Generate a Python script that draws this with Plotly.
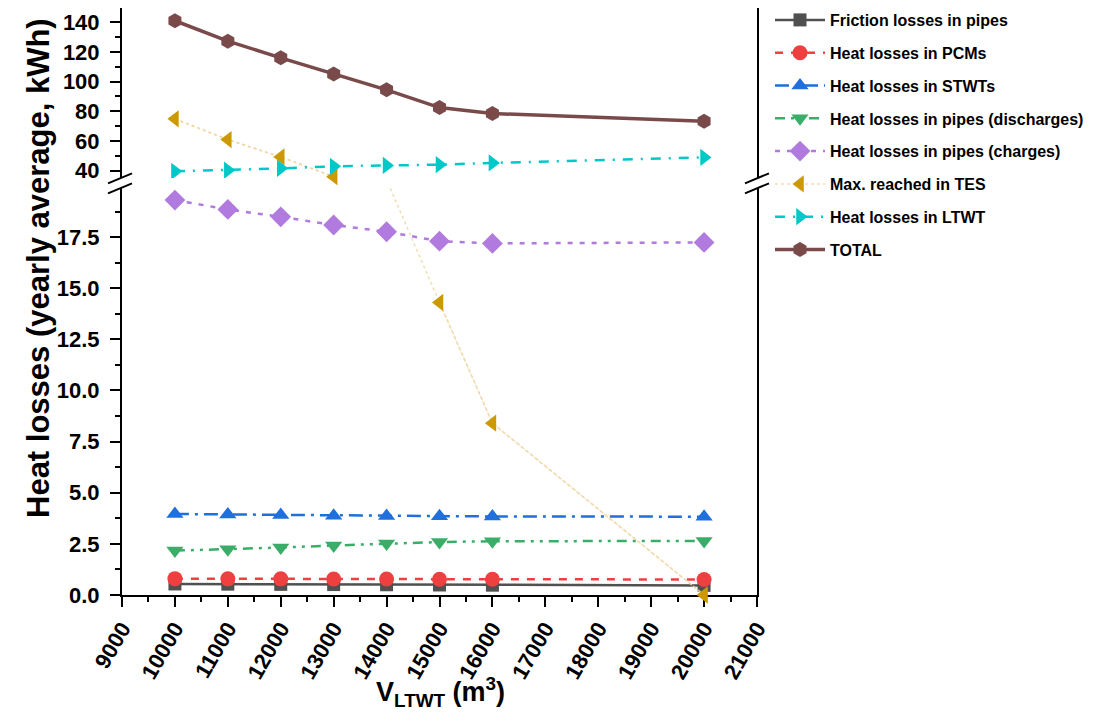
import plotly.graph_objects as go

# ---------------- data ----------------
volumes = [10000, 11000, 12000, 13000, 14000, 15000, 16000, 20000]

friction_pipes = [0.54, 0.53, 0.52, 0.51, 0.50, 0.49, 0.48, 0.47]
heat_pcms = [0.80, 0.79, 0.79, 0.78, 0.78, 0.77, 0.77, 0.76]
heat_stwts = [3.96, 3.94, 3.91, 3.88, 3.86, 3.85, 3.84, 3.83]
heat_pipes_discharges = [2.17, 2.24, 2.32, 2.42, 2.52, 2.59, 2.63, 2.64]
heat_pipes_charges = [19.31, 18.85, 18.49, 18.09, 17.76, 17.30, 17.19, 17.24]
max_reached_tes = [74.9, 60.9, 49.2, 35.9, 20.3, 14.3, 8.4, 0.0]
heat_ltwt = [39.5, 40.3, 41.5, 42.9, 43.5, 44.0, 45.2, 48.9]
total = [141.1, 127.3, 116.1, 105.2, 94.5, 82.5, 78.5, 73.3]

x_ticks = list(range(9000, 21001, 1000))

# broken y axis: lower and upper segment ranges
lower_range = [0, 19.9]
upper_range = [35.0, 149.7]

# ---------------- layout geometry ----------------
# the page body has an 8px margin, so the figure is drawn 8px smaller
OFF = 8
W, H = 1099 - OFF, 721 - OFF
ML, MR, MT, MB = 122 - OFF, 342, 0, 126
PW = W - ML - MR
PH = H - MT - MB
plot_bottom_px = 595  # page pixel coords
plot_left_px = 122


def px2x(px):
    return (px - plot_left_px) / PW


def px2y(py):
    return (plot_bottom_px - py) / PH


y_lower_top_px = 188
y_upper_bot_px = 178

FONT = "Liberation Sans, Arial, sans-serif"

fig = go.Figure()


def add(name, y, color, dash, symbol, msize, width, axis, group):
    fig.add_trace(go.Scatter(
        x=volumes, y=y, name=name, mode="lines+markers",
        line=dict(color=color, dash=dash, width=width),
        marker=dict(symbol=symbol, size=msize, color=color, line=dict(width=0)),
        xaxis="x" if axis == 1 else "x2",
        yaxis="y" if axis == 1 else "y2",
        legendgroup=group,
    ))


def add_tes(axis, rng, showlegend):
    # full line (clipped to the panel), then the in-range markers (not clipped)
    xs = [v for v, t in zip(volumes, max_reached_tes) if rng[0] - 0.5 <= t <= rng[1]]
    ys = [t for t in max_reached_tes if rng[0] - 0.5 <= t <= rng[1]]
    xa = "x" if axis == 1 else "x2"
    ya = "y" if axis == 1 else "y2"
    fig.add_trace(go.Scatter(
        x=volumes, y=max_reached_tes, mode="lines", name="Max. reached in TES",
        line=dict(color="rgba(238,212,160,0.8)", dash="dot", width=1.5),
        xaxis=xa, yaxis=ya, legendgroup="g6", showlegend=False, hoverinfo="skip"))
    fig.add_trace(go.Scatter(
        x=xs, y=ys, mode="lines+markers", name="Max. reached in TES",
        line=dict(color="rgba(238,212,160,0.8)", dash="dot", width=1.5),
        marker=dict(symbol="triangle-left", size=15, color="#cc9900", line=dict(width=0)),
        xaxis=xa, yaxis=ya, legendgroup="g6", showlegend=showlegend, cliponaxis=False))


add("Friction losses in pipes", friction_pipes, "#505050", "solid", "square", 13, 2.5, 1, "g1")
add("Heat losses in PCMs", heat_pcms, "#ee4040", "8px,8px", "circle", 15, 2.5, 1, "g2")
add("Heat losses in STWTs", heat_stwts, "#1f6fdc", "14px,6px,3px,6px", "triangle-up", 15, 2.5, 1, "g3")
add("Heat losses in pipes (discharges)", heat_pipes_discharges, "#3aae68",
    "10px,6px,3px,6px,3px,6px", "triangle-down", 15, 2.5, 1, "g4")
add("Heat losses in pipes (charges)", heat_pipes_charges, "#b07ade", "5px,7px", "diamond", 16, 2.5, 1, "g5")
add_tes(1, lower_range, True)
add_tes(2, upper_range, False)
add("Heat losses in LTWT", heat_ltwt, "#00c8c8", "10px,8px,2px,8px", "triangle-right", 15, 2.5, 2, "g7")
add("TOTAL", total, "#7a4a4a", "solid", "hexagon", 15, 3.5, 2, "g8")

tick_font = dict(family=FONT, size=22, color="black", weight="bold")
axis_common = dict(showgrid=False, zeroline=False, showline=True, linewidth=2,
                   linecolor="black", ticks="outside", ticklen=10, tickwidth=2,
                   tickcolor="black", tickfont=tick_font)

fig.update_layout(
    width=W, height=H,
    margin=dict(l=ML, r=MR, t=MT, b=MB, autoexpand=False),
    paper_bgcolor="white", plot_bgcolor="white",
    font=dict(family=FONT, color="black"),
    xaxis=dict(axis_common, domain=[0, 1], anchor="y", range=[9000, 21000],
               tickmode="array", tickvals=x_ticks, ticktext=[str(v) for v in x_ticks],
               tickangle=-60, automargin=False, layer="below traces",
               minor=dict(dtick=500, tick0=9000, ticks="outside", ticklen=5,
                          tickwidth=2, tickcolor="black")),
    xaxis2=dict(showgrid=False, zeroline=False, showline=True, linewidth=2,
                linecolor="black", matches="x", anchor="y2", side="top",
                ticks="", showticklabels=False, range=[9000, 21000]),
    yaxis=dict(axis_common, domain=[0, px2y(y_lower_top_px)], anchor="x",
               range=lower_range, tick0=0, dtick=2.5, tickformat=".1f", mirror=True,
               ticklabelstandoff=6, automargin=False, layer="below traces",
               minor=dict(dtick=1.25, tick0=0, ticks="outside", ticklen=5,
                          tickwidth=2, tickcolor="black")),
    yaxis2=dict(axis_common, domain=[px2y(y_upper_bot_px), 1], anchor="x2",
                range=upper_range, tick0=0, dtick=20, mirror=True,
                ticklabelstandoff=6, automargin=False,
                minor=dict(dtick=10, tick0=0, ticks="outside", ticklen=5,
                           tickwidth=2, tickcolor="black")),
    legend=dict(x=px2x(770), y=px2y(3), xanchor="left", yanchor="top",
                bgcolor="rgba(0,0,0,0)", borderwidth=0,
                font=dict(family=FONT, size=16, color="black", weight="bold"),
                traceorder="grouped", tracegroupgap=9, itemwidth=50),
    showlegend=True,
)

# y axis title
fig.add_annotation(text="Heat losses (yearly average, kWh)", textangle=-90,
                   xref="paper", yref="paper", x=px2x(38), y=px2y(268),
                   xanchor="center", yanchor="middle", showarrow=False,
                   font=dict(family=FONT, size=31, color="black", weight="bold"))

# x axis title
fig.add_annotation(text="V<sub>LTWT</sub> (m<sup>3</sup>)",
                   xref="paper", yref="paper", x=px2x(440), y=px2y(692),
                   xanchor="center", yanchor="middle", showarrow=False,
                   font=dict(family=FONT, size=27, color="black", weight="bold"))

# axis break marks
for xc in (plot_left_px - 2, plot_left_px + PW):
    for yc in (178.3, 188.3):
        fig.add_shape(type="line", xref="paper", yref="paper",
                      x0=px2x(xc - 12), y0=px2y(yc + 5),
                      x1=px2x(xc + 12), y1=px2y(yc - 5),
                      line=dict(color="black", width=2))

fig.write_html("out.html")
